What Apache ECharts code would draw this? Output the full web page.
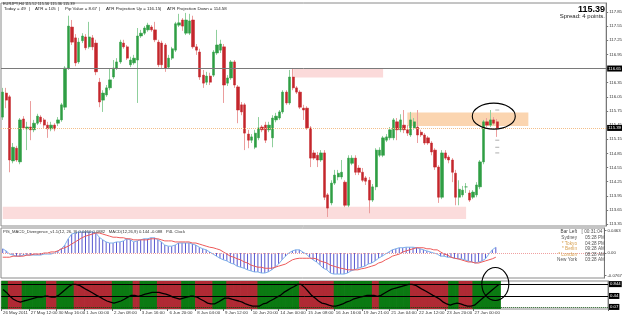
<!DOCTYPE html>
<html>
<head>
<meta charset="utf-8">
<script src="https://cdn.jsdelivr.net/npm/echarts@6/dist/echarts.min.js"></script>
<style>
html,body{margin:0;padding:0;background:#fff;}
#chart{width:625px;height:317px;}
</style>
</head>
<body>
<div id="chart"></div>
<script>
// EURJPY H4 - candles, PIS MACD divergence, oscillator band
var tickLabels = ['26 May 2011','27 May 12:00','30 May 16:00','1 Jun 00:00','2 Jun 08:00','3 Jun 16:00','6 Jun 20:00','8 Jun 04:00','9 Jun 12:00','10 Jun 20:00','14 Jun 00:00','15 Jun 08:00','16 Jun 16:00','19 Jun 21:00','21 Jun 04:00','22 Jun 12:00','23 Jun 20:00','27 Jun 00:00'];

var opens = [115.62,116.13,116.05,114.69,114.96,114.67,115.58,115.37,115.41,115.35,115.49,115.62,115.56,115.45,115.37,115.45,115.49,115.56,115.83,116.66,
117.53,117.30,116.79,117.24,117.32,117.11,117.30,117.19,116.36,115.98,116.09,116.24,116.47,116.66,116.79,117.19,117.11,116.73,116.77,116.83,
117.34,117.40,117.47,117.53,117.47,117.21,117.19,117.15,116.68,116.87,117.04,117.57,117.68,117.40,117.40,117.68,117.11,117.00,116.51,116.36,
116.49,116.51,116.98,117.04,117.11,116.34,116.45,116.79,116.26,115.88,115.88,115.26,115.13,114.98,115.18,115.41,115.45,115.35,115.18,115.56,
115.60,115.73,116.15,115.92,116.47,116.24,116.15,115.81,115.81,115.39,114.86,114.81,114.71,114.86,113.97,113.80,114.22,114.35,114.35,114.24,
113.75,114.64,114.75,114.54,114.45,114.33,114.28,113.86,114.14,114.81,114.81,115.13,115.18,115.18,115.52,115.35,115.45,115.35,115.24,115.39,
115.41,115.30,115.24,115.18,115.07,114.92,114.56,113.92,114.86,114.77,114.71,114.43,113.92,113.97,114.14,114.01,113.92,113.97,114.14,114.67,
115.52,115.45,115.56,115.52];
var closes = [116.15,115.98,114.71,114.98,114.71,115.56,115.39,115.41,115.35,115.49,115.64,115.52,115.45,115.37,115.45,115.37,115.56,115.88,116.66,117.55,
117.21,116.77,117.21,117.34,117.09,117.32,117.11,116.58,115.94,116.13,116.24,116.41,116.66,116.79,117.21,117.11,116.87,116.83,116.87,117.34,
117.40,117.51,117.57,117.47,117.26,116.73,116.73,116.66,116.87,117.07,117.60,117.62,117.55,117.68,117.66,117.11,117.04,116.47,116.34,116.49,
116.36,117.00,117.15,117.17,116.30,116.45,116.79,116.30,115.77,115.73,115.28,115.13,115.20,115.28,115.39,115.35,115.13,115.45,115.60,115.64,
115.73,116.15,115.92,116.47,116.24,116.15,115.83,115.77,115.39,114.75,114.75,114.71,114.86,113.92,113.69,114.22,114.39,114.43,114.45,113.75,
114.75,114.75,114.45,114.45,114.28,114.26,113.86,114.14,114.92,114.92,115.18,115.20,115.35,115.56,115.35,115.56,115.35,115.28,115.56,115.52,
115.24,115.24,115.07,115.07,114.88,114.56,113.92,114.86,114.75,114.71,114.45,113.92,114.09,114.07,114.14,113.86,114.03,114.18,114.67,115.52,
115.45,115.56,115.49,115.39];
var lows = [115.56,115.81,114.45,114.64,114.67,114.62,115.35,114.92,115.13,115.30,115.45,115.47,115.39,115.18,115.32,115.32,115.43,115.52,115.77,116.62,
117.15,116.70,116.75,117.19,117.04,117.07,117.04,116.51,115.83,115.73,116.05,116.19,116.43,116.62,116.75,117.07,116.83,116.68,116.73,115.92,
117.30,117.36,117.43,117.43,117.21,116.68,116.66,116.58,116.64,116.83,117.00,117.53,117.45,117.36,117.36,117.07,116.94,116.41,116.24,116.30,
116.30,116.47,116.94,116.98,115.92,116.28,116.41,116.24,115.49,115.66,114.92,114.96,115.07,114.94,115.13,115.30,115.07,115.30,114.98,115.51,
115.56,115.69,115.88,115.88,116.19,116.11,115.79,115.56,115.35,114.56,114.71,114.56,114.67,113.86,113.50,113.75,114.18,114.28,114.30,113.71,
113.71,114.60,114.39,114.39,114.24,114.18,113.58,113.82,114.07,114.77,114.77,115.09,115.13,115.13,115.13,115.30,115.28,115.22,115.20,115.35,
115.07,115.20,115.03,115.03,114.81,114.50,113.80,113.88,114.71,114.64,114.24,113.75,113.75,113.92,114.01,113.82,113.88,113.92,114.09,114.62,
115.41,115.41,115.45,115.20];
var highs = [116.24,116.24,116.09,115.07,115.01,115.60,115.64,115.52,115.96,115.56,115.69,115.66,115.60,115.52,115.52,115.49,115.62,115.92,116.70,117.77,
117.68,117.38,117.30,117.40,117.38,117.64,117.36,117.26,116.45,116.19,116.30,116.66,116.83,116.87,117.26,117.26,117.15,116.90,116.94,117.51,
117.47,117.55,117.62,117.57,117.64,117.26,117.24,117.19,116.94,117.11,117.64,117.81,117.72,117.83,117.81,117.77,117.17,117.07,116.62,116.58,
116.56,117.04,117.47,117.26,117.17,116.51,116.83,116.83,116.30,115.94,115.92,115.35,115.26,115.35,115.62,115.45,115.52,115.52,115.66,115.71,
115.77,116.19,116.19,116.62,116.66,116.28,116.19,115.88,115.85,115.43,114.92,114.88,114.92,114.92,114.01,114.28,114.50,114.50,114.71,114.28,
114.81,114.81,114.81,114.60,114.54,114.37,114.35,114.20,114.96,114.98,115.22,115.26,115.41,115.60,115.60,115.68,115.77,115.45,115.73,115.60,
115.77,115.35,115.28,115.22,115.11,114.96,114.60,114.92,114.92,114.81,114.75,114.50,114.28,114.16,114.22,114.07,114.07,114.24,114.71,115.56,
115.60,115.77,115.62,115.58];

var macdMain = [0.008,0.004,-0.002,-0.004,-0.006,-0.006,-0.004,-0.004,-0.004,-0.004,
-0.004,-0.004,-0.002,-0.002,-0.002,0.000,0.004,0.008,0.015,0.027,
0.036,0.038,0.040,0.040,0.040,0.040,0.040,0.038,0.030,0.025,
0.021,0.019,0.019,0.021,0.021,0.023,0.027,0.025,0.021,0.023,
0.025,0.027,0.027,0.029,0.029,0.025,0.021,0.015,0.013,0.013,
0.015,0.019,0.019,0.019,0.019,0.017,0.015,0.011,0.008,0.006,
0.002,-0.002,-0.006,-0.010,-0.013,-0.015,-0.019,-0.021,-0.025,-0.027,
-0.029,-0.032,-0.034,-0.036,-0.036,-0.038,-0.038,-0.036,-0.032,-0.027,
-0.021,-0.013,-0.006,0.000,0.004,0.006,0.006,0.002,-0.002,-0.008,
-0.013,-0.017,-0.023,-0.029,-0.032,-0.038,-0.040,-0.040,-0.040,-0.040,
-0.038,-0.034,-0.032,-0.029,-0.027,-0.025,-0.021,-0.019,-0.015,-0.010,
-0.006,-0.002,0.002,0.006,0.008,0.010,0.010,0.011,0.011,0.011,
0.010,0.008,0.006,0.004,0.002,0.000,-0.002,-0.006,-0.006,-0.008,
-0.008,-0.010,-0.011,-0.011,-0.013,-0.015,-0.017,-0.019,-0.017,-0.015,
-0.011,-0.002,0.006,0.011];
var macdSignal = [-0.008,-0.008,-0.008,-0.006,-0.006,-0.006,-0.006,-0.004,-0.004,-0.002,
-0.002,-0.002,0.000,0.000,0.002,0.002,0.004,0.008,0.010,0.013,
0.017,0.021,0.025,0.029,0.032,0.034,0.036,0.038,0.038,0.036,
0.034,0.032,0.030,0.030,0.029,0.029,0.027,0.027,0.025,0.025,
0.025,0.025,0.025,0.027,0.027,0.027,0.025,0.023,0.023,0.023,
0.021,0.021,0.021,0.021,0.021,0.019,0.019,0.017,0.015,0.013,
0.011,0.010,0.008,0.006,0.002,-0.002,-0.006,-0.008,-0.011,-0.013,
-0.017,-0.019,-0.023,-0.025,-0.027,-0.027,-0.029,-0.029,-0.029,-0.027,
-0.025,-0.023,-0.021,-0.017,-0.013,-0.011,-0.010,-0.010,-0.010,-0.010,
-0.010,-0.011,-0.015,-0.017,-0.019,-0.023,-0.025,-0.027,-0.029,-0.030,
-0.032,-0.032,-0.032,-0.032,-0.030,-0.029,-0.027,-0.025,-0.023,-0.019,
-0.017,-0.013,-0.010,-0.006,-0.004,-0.002,0.002,0.004,0.006,0.008,
0.010,0.010,0.010,0.008,0.008,0.006,0.006,0.002,-0.002,-0.004,
-0.008,-0.010,-0.011,-0.013,-0.015,-0.017,-0.017,-0.019,-0.019,-0.017,
-0.015,-0.013,-0.011,-0.008];
var macdAxisLabels = ['0.0463','0.00','-0.0767'];

var oscValues = [0.66,0.56,0.43,0.33,0.27,0.23,0.27,0.30,0.33,0.37,
0.40,0.40,0.43,0.43,0.40,0.40,0.46,0.56,0.66,0.76,
0.83,0.83,0.80,0.73,0.66,0.60,0.53,0.46,0.40,0.33,
0.27,0.23,0.20,0.23,0.27,0.33,0.40,0.46,0.46,0.43,
0.46,0.50,0.53,0.56,0.56,0.56,0.53,0.50,0.46,0.40,
0.37,0.33,0.37,0.40,0.43,0.43,0.40,0.33,0.27,0.20,
0.17,0.17,0.23,0.30,0.37,0.37,0.33,0.30,0.27,0.23,
0.17,0.13,0.10,0.10,0.10,0.17,0.20,0.27,0.33,0.40,
0.46,0.56,0.63,0.70,0.76,0.83,0.83,0.73,0.60,0.46,
0.37,0.27,0.20,0.17,0.13,0.10,0.10,0.13,0.17,0.23,
0.27,0.33,0.37,0.40,0.43,0.46,0.46,0.46,0.43,0.46,
0.53,0.60,0.66,0.70,0.73,0.76,0.80,0.83,0.83,0.80,
0.73,0.66,0.60,0.53,0.46,0.40,0.33,0.23,0.17,0.13,
0.17,0.20,0.17,0.13,0.10,0.10,0.13,0.23,0.33,0.43,
0.53,0.63,0.73,0.83];
var oscLevels = [0.844, 0.44, 0.07];
// up / down runs of the band, in bars
var bandRuns = [['g',2],['r',4],['g',7],['r',3],['g',5],['r',11],['g',6],['r',2],['g',5],['r',7],['g',4],['r',5],
['g',4],['r',9],['g',12],['r',10],['g',11],['r',2],['g',9],['r',11],['g',3],['r',4],['g',8]];

var priceTicks = [117.85,117.55,117.25,116.95,116.65,116.35,116.05,115.75,115.45,115.15,114.85,114.55,114.25,113.95,113.65,113.35];
var levelLines = [116.65, 115.39];
// [fromBar, toBar, top, bottom]
var zoneTop = [84, 110, 116.66, 116.46];
var zoneBottom = [0, 134, 113.72, 113.46];
var zoneOrange = [117, 152, 115.72, 115.43];
var projDashes = [115.77, 115.13, 114.98, 114.86];

var nCat = 175;
var FONT = 'Liberation Sans, Arial, sans-serif';

var dom = document.getElementById('chart');
var myChart = echarts.init(dom);

var cats = [];
for (var i = 0; i < nCat; i++) cats.push(String(i));

var wickData = [], bodyData = [];
for (var i = 0; i < opens.length; i++) {
	wickData.push([opens[i], closes[i], lows[i], highs[i]]);
	bodyData.push([opens[i], closes[i], Math.min(opens[i], closes[i]), Math.max(opens[i], closes[i])]);
}

var bandData = [];
for (var r = 0; r < bandRuns.length; r++) {
	for (var k = 0; k < bandRuns[r][1]; k++) {
		bandData.push({value: 0.945, itemStyle: {color: bandRuns[r][0] == 'g' ? '#0b7a12' : '#b02a34'}});
	}
}

var dashData = [];
for (var i = 0; i < projDashes.length; i++) dashData.push([143, projDashes[i]]);

function showTick(idx) { return idx % 8 === 0 && idx / 8 < tickLabels.length; }

function xAx(g, labels) {
	return {
		type: 'category', gridIndex: g, data: cats, boundaryGap: true,
		axisLine: {show: false},
		axisTick: {show: labels, interval: showTick, length: 2, lineStyle: {color: '#666'}},
		axisLabel: {show: labels, interval: showTick, align: 'left', margin: 2, fontSize: 4.4, color: '#333', fontFamily: FONT,
			formatter: function (v, idx) { return tickLabels[idx / 8] || ''; }},
		splitLine: {show: false}
	};
}

function levelLabel(txt) {
	return {show: true, position: 'end', distance: 1, formatter: txt, backgroundColor: '#000', color: '#fff',
		fontSize: 4.3, fontFamily: FONT, padding: [1, 1]};
}

var option = {
	animation: false,
	backgroundColor: '#fff',
	grid: [
		{left: 1, top: 3, width: 607, height: 223, show: true, borderColor: '#8a8a8a', borderWidth: 1},
		{left: 1, top: 228, width: 607, height: 50, show: true, borderColor: '#8a8a8a', borderWidth: 1},
		{left: 1, top: 281, width: 607, height: 28, show: true, borderColor: '#8a8a8a', borderWidth: 1}
	],
	xAxis: [xAx(0, false), xAx(1, false), xAx(2, true)],
	yAxis: [
		{gridIndex: 0, position: 'right', min: 113.31, max: 118.04,
			axisLine: {show: true, lineStyle: {color: '#777'}},
			axisTick: {show: true, length: 2, customValues: priceTicks, lineStyle: {color: '#777'}},
			axisLabel: {customValues: priceTicks, fontSize: 4.3, color: '#333', margin: 3, fontFamily: FONT,
				formatter: function (v) { return v.toFixed(2); }},
			splitLine: {show: false}},
		{gridIndex: 1, position: 'right', min: -0.0475, max: 0.0475,
			axisLine: {show: true, lineStyle: {color: '#777'}},
			axisTick: {show: true, length: 2, customValues: [0.043, 0, -0.043], lineStyle: {color: '#777'}},
			axisLabel: {customValues: [0.043, 0, -0.043], fontSize: 4.3, color: '#333', margin: 3, fontFamily: FONT,
				formatter: function (v) { return v > 0 ? macdAxisLabels[0] : (v < 0 ? macdAxisLabels[2] : macdAxisLabels[1]); }},
			splitLine: {show: false}},
		{gridIndex: 2, position: 'right', min: 0, max: 0.945,
			axisLine: {show: true, lineStyle: {color: '#777'}},
			axisTick: {show: false}, axisLabel: {show: false}, splitLine: {show: false}}
	],
	series: [
		{
			name: 'zones', type: 'line', xAxisIndex: 0, yAxisIndex: 0, data: [], z: 0, silent: true,
			markArea: {
				silent: true,
				data: [
					[{xAxis: zoneTop[0], yAxis: zoneTop[2], itemStyle: {color: '#fbdada'}}, {xAxis: zoneTop[1], yAxis: zoneTop[3]}],
					[{xAxis: zoneBottom[0], yAxis: zoneBottom[2], itemStyle: {color: '#fbdcdc'}}, {xAxis: zoneBottom[1], yAxis: zoneBottom[3]}],
					[{xAxis: zoneOrange[0], yAxis: zoneOrange[2], itemStyle: {color: '#fbd5b0'}}, {xAxis: zoneOrange[1], yAxis: zoneOrange[3]}]
				]
			}
		},
		{
			name: 'wicks', type: 'candlestick', xAxisIndex: 0, yAxisIndex: 0, data: wickData, barWidth: 1, z: 2,
			itemStyle: {color: '#8fcf9c', color0: '#eb9d9d', borderColor: '#8fcf9c', borderColor0: '#eb9d9d', borderWidth: 1}
		},
		{
			name: 'bodies', type: 'candlestick', xAxisIndex: 0, yAxisIndex: 0, data: bodyData, barWidth: 2.8, z: 3,
			itemStyle: {color: '#2f9e44', color0: '#c4262c', borderColor: '#2f9e44', borderColor0: '#c4262c', borderWidth: 0.5},
			markLine: {
				silent: true, symbol: 'none',
				data: [
					{yAxis: levelLines[0], lineStyle: {color: '#7a7a7a', width: 1, type: 'solid'}, label: levelLabel('116.65')},
					{yAxis: levelLines[1], lineStyle: {color: '#f3bf8a', width: 1, type: 'dotted'}, label: levelLabel('115.39')}
				]
			}
		},
		{
			name: 'proj', type: 'scatter', xAxisIndex: 0, yAxisIndex: 0, data: dashData, symbol: 'rect', symbolSize: [4, 1],
			itemStyle: {color: '#9a9a9a'}, z: 4
		},
		{
			name: 'hist', type: 'bar', xAxisIndex: 1, yAxisIndex: 1, data: macdMain, barWidth: 1,
			itemStyle: {color: '#5656cf'}, z: 2,
			markLine: {silent: true, symbol: 'none', label: {show: false},
				data: [{yAxis: 0, lineStyle: {color: '#f0a0a0', type: 'dotted', width: 1}}]}
		},
		{
			name: 'macd', type: 'line', xAxisIndex: 1, yAxisIndex: 1, data: macdMain, symbol: 'none',
			lineStyle: {color: '#7fb2ea', width: 1}, z: 3
		},
		{
			name: 'signal', type: 'line', xAxisIndex: 1, yAxisIndex: 1, data: macdSignal, symbol: 'none',
			lineStyle: {color: '#ee5a5a', width: 1}, z: 4
		},
		{
			name: 'band', type: 'bar', xAxisIndex: 2, yAxisIndex: 2, data: bandData, barWidth: 4.2, barGap: '-100%', z: 1
		},
		{
			name: 'osc', type: 'line', xAxisIndex: 2, yAxisIndex: 2, data: oscValues, symbol: 'none',
			lineStyle: {color: '#000', width: 1.3}, z: 3,
			markLine: {
				silent: true, symbol: 'none',
				data: [
					{yAxis: oscLevels[0], lineStyle: {color: '#000', width: 1, type: 'solid'}, label: levelLabel('0.844')},
					{yAxis: oscLevels[1], lineStyle: {color: '#000', width: 1, type: 'solid'}, label: levelLabel('0.44')},
					{yAxis: oscLevels[2], lineStyle: {color: '#0a4a0a', width: 1, type: 'dotted'}, label: levelLabel('0.07')}
				]
			}
		}
	]
};

myChart.setOption(option);

// texts and the hand drawn ellipses
function txt(x, y, s, extra) {
	var st = {text: s, fontSize: 4.4, fontFamily: FONT, fill: '#222', verticalAlign: 'middle'};
	for (var k in extra) st[k] = extra[k];
	return {type: 'text', x: x, y: y, style: st, z: 20};
}

var g = [];
g.push(txt(3, 4, 'EURJPY,H4 115.52 115.56 115.36 115.39', {fontSize: 3.9}));
var hdr = [[4, 'Today = 49'], [29, '|'], [35, 'ATR = 105'], [58, '|'], [65, 'Pip Value = 8.67'], [99, '|'],
	[106, 'ATR Projection Up = 116.15'], [160, '|'], [167, 'ATR Projection Down = 114.58']];
for (var i = 0; i < hdr.length; i++) g.push(txt(hdr[i][0], 8.7, hdr[i][1]));
g.push(txt(605, 10, '115.39', {fontSize: 9, fontWeight: 'bold', fill: '#000', align: 'right'}));
g.push(txt(605, 16.5, 'Spread: 4 points.', {fontSize: 6, fill: '#222', align: 'right'}));

g.push(txt(3, 232, 'PIS_MACD_Divergence_v1.1(12, 26, 9) 0.0460 0.0882   MACD(12,26,9) 0.144 -0.088   P4L Clock', {fontSize: 4.2, fill: '#333'}));

var clock = [['Bar Left', '[ 00:31:04 ]', 232, '#444'], ['Sydney', '05:28 PM', 238, '#555'], ['* Tokyo', '04:28 PM', 243.5, '#d6a050'],
	['* Berlin', '09:28 AM', 249, '#d6a050'], ['* London', '08:28 AM', 254.5, '#d6a050'], ['New York', '03:28 AM', 260, '#555']];
for (var i = 0; i < clock.length; i++) {
	g.push(txt(577, clock[i][2], clock[i][0], {fontSize: 4.7, align: 'right', fill: clock[i][3]}));
	g.push(txt(605, clock[i][2], clock[i][1], {fontSize: 4.7, align: 'right', fill: '#555'}));
}

var c1 = myChart.convertToPixel({xAxisIndex: 0, yAxisIndex: 0}, [142, 115.64]);
var c2 = myChart.convertToPixel({xAxisIndex: 2, yAxisIndex: 2}, [142, 0.844]);
g.push({type: 'ellipse', shape: {cx: c1[0], cy: c1[1], rx: 21.5, ry: 13}, style: {fill: 'none', stroke: '#000', lineWidth: 1.1}, z: 21});
g.push({type: 'ellipse', shape: {cx: c2[0], cy: c2[1], rx: 13.5, ry: 16.5}, style: {fill: 'none', stroke: '#000', lineWidth: 1.1}, z: 21});

myChart.setOption({graphic: g});
</script>
</body>
</html>
